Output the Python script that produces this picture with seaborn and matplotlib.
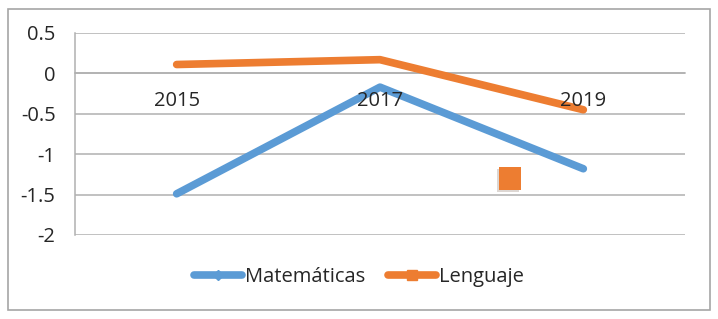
import numpy as np
import pandas as pd
import seaborn as sns
import matplotlib.pyplot as plt
import matplotlib.patheffects as pe
from matplotlib.lines import Line2D
from matplotlib.patches import Rectangle

# datos
years = ["2015", "2017", "2019"]
matematicas = [-1.49, -0.17, -1.18]
lenguaje = [0.11, 0.17, -0.45]
# marcador suelto de Lenguaje (posición en categorías, valor)
stray_x = [1.64]
stray_y = [-1.30]
y_ticks = [0.5, 0, -0.5, -1, -1.5, -2]

blue = "#5B9BD5"
orange = "#ED7D31"
grid_col = "#B0B0B0"
text_col = "#262626"

sns.set_style("white")
plt.rcParams['font.family'] = ['Open Sans', 'DejaVu Sans']

df = pd.DataFrame({
    "x": list(range(len(years))) * 2,
    "valor": matematicas + lenguaje,
    "serie": ["Matemáticas"] * 3 + ["Lenguaje"] * 3,
})

fig = plt.figure(figsize=(7.18, 3.19), dpi=100)
ax = fig.add_axes([75 / 718, 1 - 235 / 319, 610 / 718, 202 / 319])

sns.lineplot(data=df, x="x", y="valor", hue="serie", palette=[blue, orange],
             linewidth=5.5, legend=False, ax=ax, solid_capstyle="round")

# cuadrado naranja suelto
ax.plot(stray_x, stray_y, linestyle="none", marker="s", markersize=16,
        markerfacecolor=orange, markeredgecolor="none", zorder=4,
        path_effects=[pe.SimplePatchShadow(offset=(-1.5, -1.5), alpha=0.18), pe.Normal()])

ax.set_xlim(-0.5, 2.5)
ax.set_ylim(-2, 0.5)
ax.set_yticks(y_ticks)
ax.set_yticklabels([f"{v:g}" for v in y_ticks], color=text_col, fontsize=14.5)
ax.yaxis.grid(True, color=grid_col, linewidth=1.1)
ax.set_axisbelow(True)

# eje x cruzando en 0
ax.spines["bottom"].set_position(("data", 0))
ax.spines["bottom"].set_color(grid_col)
ax.spines["bottom"].set_linewidth(1.1)
ax.spines["bottom"].set_zorder(1)
ax.spines["left"].set_color(grid_col)
ax.spines["left"].set_linewidth(1.1)
ax.spines["left"].set_zorder(1)
ax.spines["top"].set_visible(False)
ax.spines["right"].set_visible(False)

ax.set_xticks([0.5, 1.5, 2.5])
ax.set_xticklabels([])
ax.set_xticks(range(len(years)), minor=True)
ax.set_xticklabels(years, minor=True, color=text_col, fontsize=14.5)
ax.tick_params(axis="x", which="major", length=6, color=grid_col, direction="out")
ax.tick_params(axis="x", which="minor", length=0, pad=13)
ax.tick_params(axis="y", length=6, color=grid_col, direction="out", pad=8)
ax.xaxis.set_zorder(3)
ax.set_xlabel("")
ax.set_ylabel("")

handles = [
    Line2D([], [], color=blue, linewidth=5.5, marker="D", markersize=5, solid_capstyle="round"),
    Line2D([], [], color=orange, linewidth=5.5, marker="s", markersize=7, solid_capstyle="round"),
]
fig.legend(handles, ["Matemáticas", "Lenguaje"], loc="center", bbox_to_anchor=(0.5, 0.132),
           ncol=2, frameon=False, fontsize=14.5, handlelength=2.4, handletextpad=0.15,
           columnspacing=1.1, labelcolor=text_col)

fig.patches.append(Rectangle((8 / 718, 9 / 319), 702 / 718, 301 / 319, transform=fig.transFigure,
                             fill=False, edgecolor="#A6A6A6", linewidth=1.2))

fig.savefig("out.png", dpi=100)
